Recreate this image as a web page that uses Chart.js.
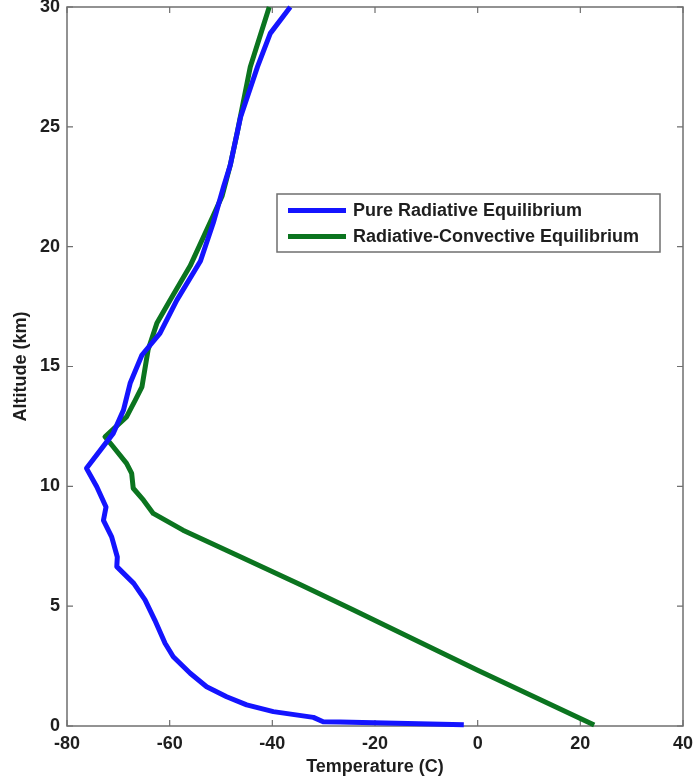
<!DOCTYPE html>
<html><head><meta charset="utf-8">
<script src="https://cdn.jsdelivr.net/npm/chart.js@4.4.0/dist/chart.umd.min.js"></script>
<style>html,body{margin:0;padding:0;background:#fff;} #wrap{width:694px;height:784px;position:relative;}</style>
</head><body><div id="wrap"><canvas id="c" width="694" height="784"></canvas></div>
<script>
const seriesLabels = ['Pure Radiative Equilibrium', 'Radiative-Convective Equilibrium'];
const seriesColors = ['#1414ff', '#0b741f'];
const pureTemp = [-2.7, -26.8, -30.1, -32.0, -39.8, -45.0, -48.9, -52.8, -56.0, -59.3, -60.9, -62.9, -64.8, -67.0, -70.3, -70.2, -71.3, -72.9, -72.4, -74.2, -76.2, -71.0, -69.0, -67.7, -65.4, -61.9, -58.6, -54.0, -51.5, -49.5, -48.2, -46.2, -42.9, -40.4, -36.5];
const pureAlt  = [0.05, 0.17, 0.18, 0.36, 0.6, 0.88, 1.22, 1.64, 2.2, 2.89, 3.45, 4.42, 5.26, 5.95, 6.65, 7.05, 7.89, 8.58, 9.14, 9.98, 10.75, 12.21, 13.18, 14.3, 15.48, 16.38, 17.77, 19.4, 21.0, 22.5, 23.4, 25.4, 27.5, 28.9, 30.0];
const rceTemp = [22.7, 0.0, -24.5, -34.6, -47.6, -57.4, -63.2, -65.1, -67.1, -67.4, -68.4, -71.0, -72.6, -68.4, -66.7, -65.4, -64.2, -62.5, -59.9, -56.0, -51.5, -49.8, -48.2, -46.8, -44.3, -40.6];
const rceAlt  = [0.04, 2.33, 4.87, 5.9, 7.2, 8.17, 8.87, 9.42, 9.92, 10.54, 10.96, 11.65, 12.07, 12.9, 13.6, 14.15, 15.7, 16.8, 17.77, 19.2, 21.3, 22.1, 23.4, 24.8, 27.5, 30.0];
const xTicks = [-80, -60, -40, -20, 0, 20, 40];
const yTicks = [0, 5, 10, 15, 20, 25, 30];
const xTitle = 'Temperature (C)';
const yTitle = 'Altitude (km)';

const toPts = (xs, ys) => xs.map((x, i) => ({x: x, y: ys[i]}));
const FONT = "'Liberation Sans', Arial, sans-serif";
const axisColor = '#6f6f6f';
const textColor = '#1e1e1e';

const frame = {
  id: 'frame',
  beforeDatasetsDraw(chart) {
    const {ctx, chartArea: a, scales: {x, y}} = chart;
    ctx.save();
    ctx.strokeStyle = axisColor;
    ctx.lineWidth = 1.5;
    ctx.strokeRect(a.left, a.top, a.right - a.left, a.bottom - a.top);
    ctx.lineWidth = 1.2;
    const L = 6;
    ctx.beginPath();
    xTicks.forEach(v => {
      const p = x.getPixelForValue(v);
      ctx.moveTo(p, a.bottom); ctx.lineTo(p, a.bottom - L);
      ctx.moveTo(p, a.top); ctx.lineTo(p, a.top + L);
    });
    yTicks.forEach(v => {
      const p = y.getPixelForValue(v);
      ctx.moveTo(a.left, p); ctx.lineTo(a.left + L, p);
      ctx.moveTo(a.right, p); ctx.lineTo(a.right - L, p);
    });
    ctx.stroke();
    ctx.restore();
  }
};

const boxLegend = {
  id: 'boxLegend',
  afterDatasetsDraw(chart) {
    const {ctx} = chart;
    const bx = 277, by = 194, bw = 383, bh = 58;
    ctx.save();
    ctx.fillStyle = '#fff';
    ctx.fillRect(bx, by, bw, bh);
    ctx.strokeStyle = axisColor;
    ctx.lineWidth = 1.5;
    ctx.strokeRect(bx, by, bw, bh);
    ctx.font = 'bold 18px ' + FONT;
    ctx.textBaseline = 'middle';
    ctx.textAlign = 'left';
    chart.data.datasets.forEach((ds, i) => {
      const yy = by + 16.5 + i * 26;
      ctx.strokeStyle = ds.borderColor;
      ctx.lineWidth = 5;
      ctx.beginPath();
      ctx.moveTo(bx + 11, yy); ctx.lineTo(bx + 69, yy);
      ctx.stroke();
      ctx.fillStyle = textColor;
      ctx.fillText(ds.label, bx + 76, yy + 1);
    });
    ctx.restore();
  }
};

new Chart(document.getElementById('c'), {
  type: 'scatter',
  data: {
    datasets: [
      {label: seriesLabels[0], data: toPts(pureTemp, pureAlt), borderColor: seriesColors[0], backgroundColor: seriesColors[0], showLine: true, borderWidth: 5, pointRadius: 0, borderJoinStyle: 'round', borderCapStyle: 'butt', tension: 0, clip: false},
      {label: seriesLabels[1], data: toPts(rceTemp, rceAlt), borderColor: seriesColors[1], backgroundColor: seriesColors[1], showLine: true, borderWidth: 5, pointRadius: 0, borderJoinStyle: 'round', borderCapStyle: 'butt', tension: 0, clip: false}
    ]
  },
  options: {
    responsive: false,
    animation: false,
    devicePixelRatio: 1,
    layout: {padding: {top: 7, right: 11, left: 0, bottom: 0}},
    plugins: {legend: {display: false}, tooltip: {enabled: false}},
    scales: {
      x: {
        type: 'linear', min: -80, max: 40,
        afterBuildTicks: s => { s.ticks = xTicks.map(v => ({value: v})); },
        afterFit: s => { s.height = 58; s.paddingLeft = 0; s.paddingRight = 0; },
        grid: {display: false, drawTicks: false},
        border: {display: false},
        ticks: {padding: 7, color: textColor, font: {family: FONT, size: 18, weight: 'bold'}, maxRotation: 0},
        title: {display: true, text: xTitle, color: textColor, font: {family: FONT, size: 18, weight: 'bold'}, padding: {top: 0, bottom: 6}}
      },
      y: {
        type: 'linear', min: 0, max: 30,
        afterBuildTicks: s => { s.ticks = yTicks.map(v => ({value: v})); },
        afterFit: s => { s.width = 67; s.paddingTop = 0; s.paddingBottom = 0; },
        grid: {display: false, drawTicks: false},
        border: {display: false},
        ticks: {padding: 7, color: textColor, font: {family: FONT, size: 18, weight: 'bold'}},
        title: {display: true, text: yTitle, color: textColor, font: {family: FONT, size: 18, weight: 'bold'}, padding: {top: 10, bottom: 0}}
      }
    }
  },
  plugins: [frame, boxLegend]
});
</script>
</body></html>
